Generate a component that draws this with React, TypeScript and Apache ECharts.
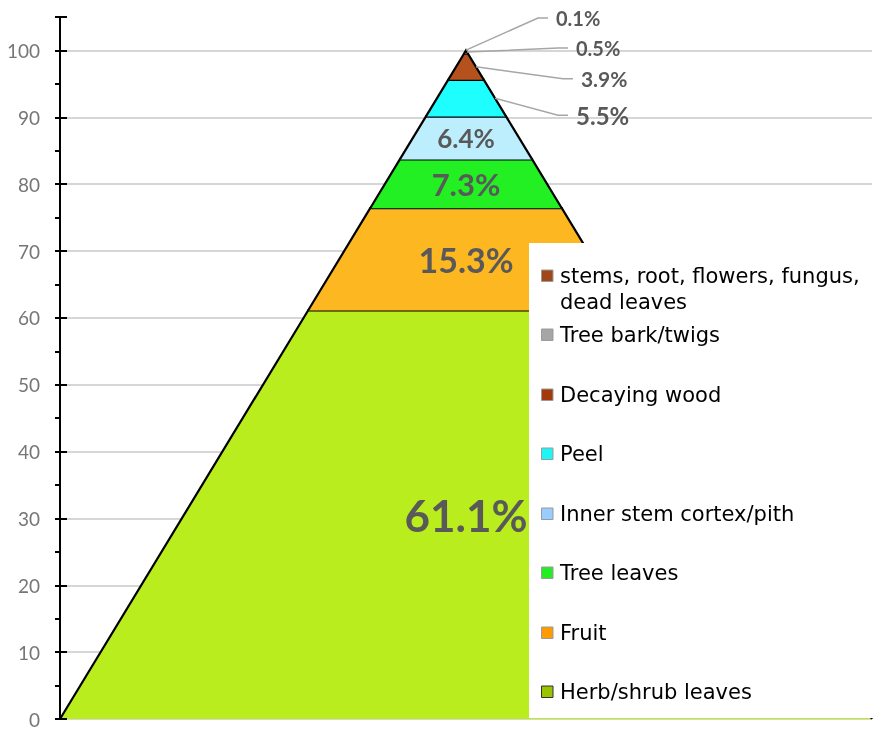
import React, { useEffect, useRef } from "react";
import * as echarts from "echarts";

// ---- data (bottom layer first) ----
const categories = [
  "Herb/shrub leaves",
  "Fruit",
  "Tree leaves",
  "Inner stem cortex/pith",
  "Peel",
  "Decaying wood",
  "Tree bark/twigs",
  "stems, root, flowers, fungus, dead leaves",
];
const percents = [61.1, 15.3, 7.3, 6.4, 5.5, 3.9, 0.5, 0.1];
const yTickLabels = [0, 10, 20, 30, 40, 50, 60, 70, 80, 90, 100];

// ---- styles ----
const bandColors = ["#b9ed1e", "#fdb720", "#22f022", "#bdeefd", "#1ffefe", "#b5511c", "#a6a6a6", "#a84f1a"];
const legendColors = ["#99c400", "#ff9a00", "#22ee22", "#99ccff", "#1ff5f5", "#a33a0c", "#a6a6a6", "#a0481a"];
const legendBorders = ["#333333", "#9a9a9a", "#9a9a9a", "#9a9a9a", "#9a9a9a", "#9a9a9a", "#9a9a9a", "#9a9a9a"];
const labelSizes = [44, 34, 31, 26, 24, 21, 20, 20];
// callout elbow offsets (px) for small layers, relative to anchor on the right edge
const calloutOffsets: Record<number, [number, number]> = {
  4: [63, 17],
  5: [87, 12],
  6: [91, -4],
  7: [72, -32],
};
const legendItemY = [276, 335, 395, 454, 514, 573, 633, 692];

const pyramidHeight = 100;
const cumulative: number[] = [];
percents.reduce((acc, v, i) => {
  cumulative[i] = acc;
  return acc + v;
}, 0);

const fmt = (v: number) => `${v.toFixed(1)}%`;

export default function App() {
  const ref = useRef<HTMLDivElement>(null);
  useEffect(() => {
    if (!ref.current) return;
    const chart = echarts.init(ref.current, undefined, { renderer: "svg" });
    const hw = (y: number) => Math.max(0, 1 - y / pyramidHeight);

    const renderItem = (params: any, api: any) => {
      const i = api.value(0);
      const lo = cumulative[i];
      const hi = lo + percents[i];
      const bl = api.coord([-hw(lo), lo]);
      const br = api.coord([hw(lo), lo]);
      const tl = api.coord([-hw(hi), hi]);
      const tr = api.coord([hw(hi), hi]);
      const children: any[] = [
        { type: "polygon", shape: { points: [bl, tl, tr, br] }, style: { fill: bandColors[i] } },
        {
          type: "polyline",
          shape: { points: [bl, tl, tr, br] },
          style: { stroke: "#000", lineWidth: 2.2, fill: null },
        },
      ];
      const mid = (lo + hi) / 2;
      const font = {
        fill: "#595959",
        fontFamily: "Lato",
        fontWeight: "bold",
        fontSize: labelSizes[i],
      };
      if (calloutOffsets[i]) {
        const a = api.coord([hw(mid), mid]);
        const off = calloutOffsets[i];
        const e = [a[0] + off[0], a[1] + off[1]];
        const end = [e[0] + 10, e[1]];
        children.push({
          type: "polyline",
          shape: { points: [a, e, end] },
          style: { stroke: "#a6a6a6", lineWidth: 1.5, fill: null },
        });
        children.push({
          type: "text",
          style: {
            text: fmt(percents[i]),
            x: end[0] + 8,
            y: end[1],
            align: "left",
            verticalAlign: "middle",
            textAlign: "left",
            textVerticalAlign: "middle",
            ...font,
          },
        });
      } else {
        const c = api.coord([0, mid]);
        children.push({
          type: "text",
          style: {
            text: fmt(percents[i]),
            x: c[0],
            y: c[1],
            align: "center",
            verticalAlign: "middle",
            textAlign: "center",
            textVerticalAlign: "middle",
            ...font,
          },
        });
      }
      return { type: "group", children };
    };

    const legendOrder = categories.map((_, i) => categories.length - 1 - i);
    const legendElements: any[] = [
      {
        type: "rect",
        z: 100,
        shape: { x: 529, y: 243, width: 344, height: 475 },
        style: { fill: "#ffffff" },
      },
    ];
    legendOrder.forEach((ci, k) => {
      const cy = legendItemY[k];
      legendElements.push({
        type: "rect",
        z: 101,
        shape: { x: 541.5, y: cy - 6, width: 11.5, height: 11.5 },
        style: { fill: legendColors[ci], stroke: legendBorders[ci], lineWidth: 1 },
      });
      legendElements.push({
        type: "text",
        z: 101,
        style: {
          text: categories[ci].replace("fungus, ", "fungus,\n"),
          x: 560,
          y: cy - 13,
          fill: "#000",
          fontFamily: "DejaVu Sans",
          fontSize: 21,
          lineHeight: 26,
          align: "left",
          verticalAlign: "top",
          textAlign: "left",
          textVerticalAlign: "top",
        },
      });
    });

    chart.setOption({
      animation: false,
      grid: { left: 60, right: 1, top: 17, bottom: 15 },
      xAxis: { type: "value", min: -1, max: 1, show: false },
      yAxis: [
        {
          type: "value",
          position: "left",
          min: 0,
          max: 105,
          interval: 5,
          axisLine: { show: true, onZero: false, lineStyle: { color: "#000", width: 2 } },
          axisTick: { show: true, length: 5, lineStyle: { color: "#000", width: 2 } },
          axisLabel: {
            formatter: (v: number) => (yTickLabels.includes(v) ? String(v) : ""),
            color: "#767676",
            fontFamily: "Lato",
            fontSize: 19,
            margin: 20,
          },
          splitLine: { show: true, lineStyle: { color: ["#d6d6d6", "rgba(0,0,0,0)"], width: 2 } },
        },
        {
          type: "value",
          position: "left",
          offset: 0,
          min: 0,
          max: 105,
          interval: 10,
          axisLine: { show: true, onZero: false, lineStyle: { color: "#000", width: 2 } },
          axisLabel: { show: false },
          splitLine: { show: false },
          axisTick: {
            show: true,
            inside: true,
            length: 7,
            lineStyle: { color: "#000", width: 2 },
          },
          z: 6,
        },
      ],
      series: [
        {
          type: "custom",
          name: "Diet",
          renderItem,
          data: percents.map((_, i) => [i]),
          encode: { x: -1, y: -1 },
          z: 3,
        },
      ],
      graphic: legendElements,
    });
    return () => chart.dispose();
  }, []);
  return <div ref={ref} style={{ position: "fixed", left: 0, top: 0, width: 873, height: 734 }} />;
}
